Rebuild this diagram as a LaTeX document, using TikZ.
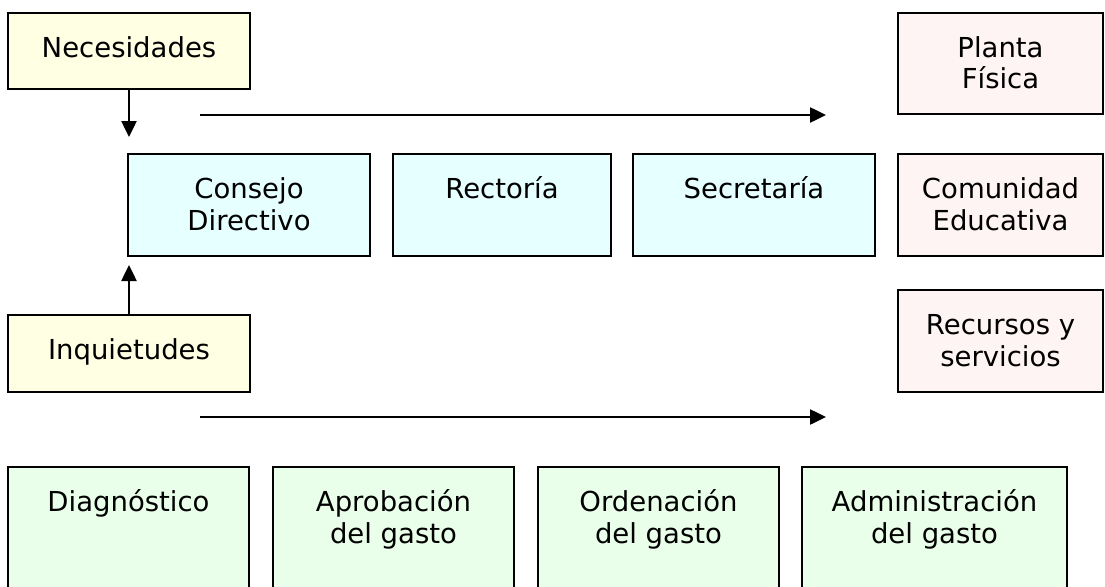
\documentclass[tikz,border=0pt]{standalone}
\usepackage{fontspec}
\setmainfont{DejaVu Sans}
\usetikzlibrary{arrows.meta,calc}
\definecolor{cyel}{HTML}{FFFFE3}
\definecolor{ccya}{HTML}{E6FFFF}
\definecolor{cpnk}{HTML}{FFF4F4}
\definecolor{cgrn}{HTML}{E9FFE9}
\newcommand\tl[1]{\begin{tabular}[t]{@{}c@{}}#1\end{tabular}}
\newcommand\mkbox[7]{%
  \node[box,fill=#6,minimum width={#4-#2},minimum height={#5-#3}] (#1) at (#2,#3) {};
  \node[lbl] (#1t) at ($(#1.north)+(0,44)$) {\tl{#7}};}
\begin{document}
\begin{tikzpicture}[x=1pt,y=-1pt,
  box/.style={draw=black,line width=1.6pt,inner sep=0pt,outer sep=0pt,anchor=north west},
  lbl/.style={anchor=base,inner sep=0pt,font=\fontsize{27.5}{32}\selectfont},
  arr/.style={line width=2.5pt,-{Triangle[length=16pt,width=15pt]}}]
\useasboundingbox (0,0) rectangle (1105,586);
\mkbox{nec}{8}{13}{250}{89}{cyel}{Necesidades}
\mkbox{inq}{8}{315}{250}{392}{cyel}{Inquietudes}
\mkbox{cons}{128}{154}{370}{256}{ccya}{Consejo\\Directivo}
\mkbox{rect}{393}{154}{611}{256}{ccya}{Rectoría}
\mkbox{secr}{633}{154}{875}{256}{ccya}{Secretaría}
\mkbox{plan}{898}{13}{1103}{114}{cpnk}{Planta\\Física}
\mkbox{comu}{898}{154}{1103}{256}{cpnk}{Comunidad\\Educativa}
\mkbox{recu}{898}{290}{1103}{392}{cpnk}{Recursos y\\servicios}
\mkbox{diag}{8}{467}{249}{600}{cgrn}{Diagnóstico}
\mkbox{apro}{273}{467}{514}{600}{cgrn}{Aprobación\\del gasto}
\mkbox{orde}{538}{467}{779}{600}{cgrn}{Ordenación\\del gasto}
\mkbox{admi}{802}{467}{1067}{600}{cgrn}{Administración\\del gasto}
\draw[arr] (nec.south) -- ($(nec.south |- cons.north)+(0,-17)$);
\draw[arr] (inq.north) -- ($(inq.north |- cons.south)+(0,9)$);
\coordinate (t1) at (200,115);
\coordinate (t2) at (826,115);
\coordinate (b1) at (200,417);
\coordinate (b2) at (826,417);
\draw[arr] (t1) -- (t2);
\draw[arr] (b1) -- (b2);
\end{tikzpicture}
\end{document}
